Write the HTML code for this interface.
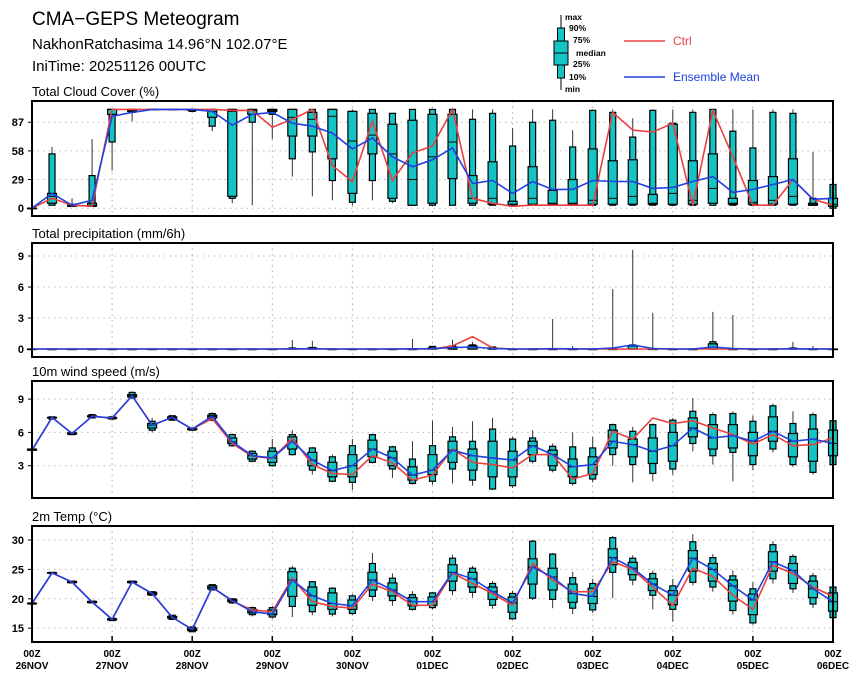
<!DOCTYPE html>
<html><head><meta charset="utf-8"><title>CMA-GEPS Meteogram</title>
<style>
html,body{margin:0;padding:0;background:#fff;}
svg{display:block;font-family:"Liberation Sans",sans-serif;}
</style></head>
<body>
<svg id="chart" width="860" height="680" viewBox="0 0 860 680">
<g>
<text x="32" y="25" font-size="19">CMA−GEPS Meteogram</text>
<text x="32" y="49" font-size="15">NakhonRatchasima  14.96°N  102.07°E</text>
<text x="32" y="71" font-size="15">IniTime: 20251126 00UTC</text>
</g>
<g font-size="8.5" font-weight="bold">
<line x1="561" y1="15" x2="561" y2="90" stroke="#000" stroke-width="1"/>
<rect x="557.5" y="28" width="7" height="50" fill="#14c4c4" stroke="#000"/>
<rect x="554" y="41" width="14" height="24" fill="#14c4c4" stroke="#000"/>
<line x1="554" y1="53" x2="568" y2="53" stroke="#000"/>
<text x="565" y="20">max</text>
<text x="569" y="31">90%</text>
<text x="573" y="43">75%</text>
<text x="576" y="56">median</text>
<text x="573" y="67">25%</text>
<text x="569" y="80">10%</text>
<text x="565" y="92">min</text>
<line x1="624" y1="41" x2="665" y2="41" stroke="#e84040" stroke-width="1.5"/>
<text x="673" y="45" font-size="12" font-weight="normal" fill="#e84040">Ctrl</text>
<line x1="624" y1="77" x2="665" y2="77" stroke="#2040e0" stroke-width="1.5"/>
<text x="673" y="81" font-size="12" font-weight="normal" fill="#2040e0">Ensemble Mean</text>
</g>
</svg>
<script>
// ---- Total cloud cover (%) ----
const cloudMean=[0,15,3,8,93,97,100,100,100,98,84,95,97,86,83,76,60,71,52,42,49,61,25,28,15,27,19,19,28,27,27,20,21,27,32,16,19,24,29,9,10];
const cloudCtrl=[0,10,3,2,100,100,100,100,100,100,99,99,82,90,100,43,27,88,28,56,63,100,10,5,2,3,3,3,3,97,79,77,86,3,99,52,3,3,29,9,3];
const cloudMax=[0,62,10,70,100,100,100,100,100,100,100,100,100,100,100,100,100,100,96,100,100,100,100,100,81,100,100,79,100,100,91,100,100,100,100,100,100,100,100,57,24];
const cloudP90=[0,55,4,33,100,100,100,100,100,100,100,100,100,100,100,100,98,100,96,100,100,100,90,96,63,87,89,62,99,97,72,99,86,97,100,78,61,97,96,10,24];
const cloudP75=[0,15,3,5,100,100,100,100,100,100,100,100,100,100,97,100,98,96,85,89,95,95,33,47,7,42,18,29,60,48,49,14,85,48,55,10,28,32,50,5,10];
const cloudMed=[0,12,3,3,100,99,100,100,100,98,98,99,99,92,90,93,68,74,55,29,52,67,10,10,4,10,5,5,8,10,12,5,15,8,20,5,6,8,12,4,4];
const cloudP25=[0,5,2,2,95,98,100,100,99,92,12,95,98,73,73,50,15,55,10,3,5,30,5,4,3,4,4,4,4,4,4,4,4,4,5,4,4,4,4,3,2];
const cloudP10=[0,3,2,2,67,97,100,100,98,83,10,87,95,50,57,28,6,28,7,3,3,3,3,3,2,3,3,3,3,3,3,3,3,3,3,3,3,3,3,3,0];
const cloudMin=[0,3,2,2,38,88,99,100,98,78,5,3,70,32,12,8,3,8,5,3,3,3,3,3,2,3,3,3,3,3,3,3,3,3,3,3,3,3,3,3,0];
const cloudTicks=[0,29,58,87];
// ---- Total precipitation (mm/6h) ----
const precMean=[0,0,0,0,0,0,0,0,0,0,0,0,0,0.02,0.02,0,0,0,0,0.02,0.03,0.15,0.2,0.05,0,0,0.03,0.02,0,0.1,0.4,0.05,0,0,0.2,0.05,0,0,0.02,0.01,0];
const precCtrl=[0,0,0,0,0,0,0,0,0,0,0,0,0,0,0,0,0,0,0,0,0,0.3,1.2,0.1,0,0,0,0,0,0,0,0,0,0,0,0,0,0,0,0,0];
const precMax=[0,0,0,0,0,0,0,0,0,0,0,0,0,0.87,0.8,0,0,0,0,0.98,0.3,0.9,0.7,0.2,0,0,2.9,0.3,0,5.8,9.6,3.5,0,0,3.6,3.3,0,0,0.7,0.3,0];
const precP90=[0,0,0,0,0,0,0,0,0,0,0,0,0,0.1,0.15,0,0,0,0,0,0.25,0.3,0.4,0.2,0,0,0,0,0,0.05,0.4,0.05,0,0,0.7,0,0,0,0.1,0,0];
const precP75=[0,0,0,0,0,0,0,0,0,0,0,0,0,0.05,0.1,0,0,0,0,0,0.1,0.2,0.3,0.1,0,0,0,0,0,0,0.3,0,0,0,0.5,0,0,0,0.05,0,0];
const precTicks=[0,3,6,9];
// ---- 10m wind speed (m/s) ----
const windMean=[4.4,7.35,5.9,7.45,7.3,9.3,6.65,7.35,6.3,7.45,5.15,3.9,3.7,5.2,3.5,2.55,3.0,4.5,3.7,2.15,2.6,4.4,3.9,3.7,3.5,4.8,4.0,2.9,3.1,5.2,4.9,4.3,4.8,6.4,5.5,5.7,5.2,6.1,5.2,5.4,5.0];
const windCtrl=[4.4,7.35,5.9,7.45,7.3,9.3,6.65,7.35,6.3,7.25,5.0,3.85,3.65,5.45,3.1,2.3,2.2,3.9,3.25,1.7,2.15,4.5,3.3,3.1,2.8,4.0,4.0,1.8,2.3,6.1,5.4,7.3,6.8,7.05,6.4,5.8,4.95,5.8,4.8,4.9,5.5];
const windMax=[4.5,7.4,6.0,7.6,7.4,9.7,7.3,7.5,6.4,7.8,5.9,4.4,5.4,6.2,4.7,4.0,5.4,5.9,4.8,5.2,7.05,6.5,7.0,7.3,5.6,6.2,5.0,6.0,5.6,6.8,6.5,6.8,7.3,9.1,7.8,7.9,7.5,8.6,7.9,7.8,7.3];
const windP90=[4.5,7.4,6.0,7.6,7.4,9.6,7.0,7.5,6.4,7.7,5.8,4.3,4.6,5.8,4.6,3.8,4.8,5.8,4.7,3.6,4.8,5.6,5.2,6.3,5.4,5.5,4.75,4.7,4.6,6.7,6.1,6.7,7.1,7.9,7.6,7.7,7.0,8.4,6.8,7.6,7.05];
const windP75=[4.5,7.35,5.95,7.5,7.35,9.4,6.8,7.4,6.35,7.55,5.5,4.1,4.3,5.6,4.2,3.3,4.0,5.3,4.3,2.9,4.0,5.2,4.5,5.2,4.3,5.2,4.4,3.6,3.8,6.2,5.4,5.5,6.0,7.3,6.7,6.7,6.0,7.4,5.9,6.3,6.2];
const windP25=[4.4,7.3,5.85,7.4,7.25,9.2,6.4,7.2,6.25,7.3,5.0,3.6,3.3,4.5,3.0,2.0,2.0,3.8,3.0,1.7,2.2,3.3,2.6,2.0,2.0,4.0,3.0,2.0,2.2,4.6,3.8,3.2,3.4,5.6,4.5,4.6,3.9,5.2,3.8,3.4,3.9];
const windP10=[4.4,7.2,5.8,7.3,7.2,9.1,6.2,7.1,6.2,7.1,4.8,3.4,3.0,4.0,2.6,1.6,1.5,3.3,2.7,1.4,1.6,2.7,1.7,0.9,1.2,3.4,2.6,1.4,1.8,4.0,3.1,2.3,2.7,5.0,3.9,4.2,3.1,4.5,3.1,2.4,3.1];
const windMin=[4.4,7.2,5.8,7.3,7.2,9.1,6.0,7.1,6.2,7.0,4.7,3.3,2.9,3.9,2.2,1.5,0.8,3.2,1.9,1.3,1.3,1.4,1.2,0.8,1.0,3.2,2.4,1.2,1.5,3.0,1.5,1.6,2.2,4.3,3.1,1.6,2.6,4.2,2.9,2.2,2.6];
const windTicks=[3,6,9];
// ---- 2m temperature (°C) ----
const tempMean=[19.2,24.4,22.85,19.45,16.5,22.85,20.9,16.85,14.8,21.95,19.7,17.8,17.4,23.2,20.5,19.2,18.8,23.2,21.5,19.5,19.5,24.5,23.4,21.2,19.3,25.4,23.7,20.9,20.4,27.0,25.2,22.5,20.6,26.9,25.0,22.2,19.8,26.3,24.8,21.7,19.5];
const tempCtrl=[19.2,24.4,22.85,19.45,16.5,22.85,20.9,16.85,14.8,21.95,19.6,18.1,17.8,23.5,19.5,18.7,18.4,22.5,21.2,18.9,18.9,24.4,22.6,20.9,18.9,26.0,23.2,21.2,21.2,26.3,25.0,21.95,18.9,25.2,23.8,20.6,18.2,25.7,24.3,22.0,20.4];
const tempMax=[19.3,24.5,23.0,19.6,16.7,23.0,21.2,17.2,15.2,22.4,20.1,18.7,18.8,25.6,23.0,22.0,20.8,27.8,24.3,21.3,21.2,27.5,25.6,23.0,21.4,30.0,27.8,24.6,23.4,30.7,27.4,24.8,23.4,31.0,27.6,24.8,22.8,29.8,27.6,24.4,22.2];
const tempP90=[19.3,24.5,23.0,19.6,16.7,23.0,21.2,17.2,15.2,22.4,20.0,18.5,18.5,25.2,22.9,21.8,20.5,26.0,23.5,20.7,21.0,26.9,25.2,22.6,20.9,29.8,27.6,23.6,22.6,30.4,26.9,24.3,22.2,29.7,27.0,23.9,21.7,29.2,27.2,23.9,22.0];
const tempP75=[19.25,24.45,22.95,19.55,16.6,22.95,21.1,17.0,15.0,22.2,19.9,18.2,18.1,24.6,22.0,21.0,19.8,24.5,22.7,20.2,20.3,25.8,24.5,22.0,20.3,26.8,25.2,22.5,21.8,28.5,26.2,23.4,21.4,28.2,26.0,23.2,20.8,28.0,26.0,23.0,21.0];
const tempP25=[19.15,24.35,22.75,19.35,16.4,22.75,20.7,16.7,14.6,21.7,19.5,17.6,17.3,20.4,18.9,18.2,18.2,21.5,20.5,18.8,18.9,23.0,22.0,19.9,17.7,22.5,21.5,19.4,19.2,25.8,24.1,21.4,19.0,24.7,23.0,19.6,17.3,24.7,22.6,20.2,17.9];
const tempP10=[19.1,24.3,22.7,19.3,16.3,22.7,20.6,16.5,14.4,21.5,19.3,17.3,16.9,18.7,17.8,17.4,17.5,20.4,19.7,18.2,18.5,21.4,21.1,18.9,16.6,20.1,19.9,18.4,18.1,24.5,23.2,20.6,18.2,22.8,22.0,18.0,15.9,23.4,21.7,19.1,16.8];
const tempMin=[19.1,24.3,22.7,19.3,16.3,22.7,20.6,16.5,14.4,21.5,19.1,17.0,16.6,16.9,17.2,17.0,17.2,19.6,18.8,18.0,18.2,20.6,20.2,18.3,16.5,19.8,18.4,17.4,17.6,20.1,22.3,18.2,16.1,22.3,21.2,17.3,15.6,22.6,21.0,18.4,16.6];
const tempTicks=[15,20,25,30];
// ---- x axis ----
const dayLabels=["26NOV","27NOV","28NOV","29NOV","30NOV","01DEC","02DEC","03DEC","04DEC","05DEC","06DEC"];

const NS="http://www.w3.org/2000/svg";
const svg=document.getElementById('chart');
const X0=32,X1=833,STEPS=40;
function xScale(t){return X0+(X1-X0)*t/STEPS;}
function mk(tag,attrs,parent){const e=document.createElementNS(NS,tag);for(const k in attrs)e.setAttribute(k,attrs[k]);(parent||svg).appendChild(e);return e;}

function drawPanel(cfg){
  const g=mk('g',{});
  
  
  const y=v=>cfg.bottom-(v-cfg.vmin)*(cfg.bottom-cfg.top)/(cfg.vmax-cfg.vmin);
  const title=mk('text',{x:32,y:cfg.top-5,'font-size':13},g);
  title.textContent=cfg.title;
  
  
  for(let d=1;d<dayLabels.length-1;d++){
    const gl=mk('line',{x1:xScale(d*4),x2:xScale(d*4),y1:cfg.top,y2:cfg.bottom,stroke:'#aaa','stroke-dasharray':'1.5,4'},g);
    
    
  }
  cfg.ticks.forEach(tv=>{
    const gl=mk('line',{x1:X0,x2:X1,y1:y(tv),y2:y(tv),stroke:'#bbb','stroke-dasharray':'1.5,4'},g);
    
    
    const tk=mk('line',{x1:X0-4,x2:X0,y1:y(tv),y2:y(tv),stroke:'#000'},g);
    
    
    const lb=mk('text',{x:X0-8,y:y(tv)+4,'font-size':11,'font-weight':'bold','text-anchor':'end'},g);
    lb.textContent=String(tv);
    
    
  });
  const gb=mk('g',{},g);
  
  
  for(let t=0;t<=STEPS;t++){
    const cx=xScale(t);
    const w=mk('line',{x1:cx,x2:cx,y1:y(cfg.max[t]),y2:y(cfg.min[t]),stroke:'#333','stroke-width':1},gb);
    
    
    const r1=mk('rect',{x:cx-3,y:y(cfg.p90[t]),width:6,height:Math.max(0.5,y(cfg.p10[t])-y(cfg.p90[t])),fill:'#14c4c4',stroke:'#000','stroke-width':1.2},gb);
    
    
    const r2=mk('rect',{x:cx-4.5,y:y(cfg.p75[t]),width:9,height:Math.max(0.5,y(cfg.p25[t])-y(cfg.p75[t])),fill:'#14c4c4',stroke:'#000','stroke-width':1.2},gb);
    
    
    const md=mk('line',{x1:cx-4.5,x2:cx+4.5,y1:y(cfg.med[t]),y2:y(cfg.med[t]),stroke:'#000','stroke-width':1},gb);
    
    
  }
  const ptsC=cfg.ctrl.map((v,t)=>xScale(t).toFixed(1)+','+y(v).toFixed(1)).join(' ');
  const pc=mk('polyline',{points:ptsC,fill:'none',stroke:'#e84040','stroke-width':1.6},g);
  
  
  const ptsM=cfg.mean.map((v,t)=>xScale(t).toFixed(1)+','+y(v).toFixed(1)).join(' ');
  const pm=mk('polyline',{points:ptsM,fill:'none',stroke:'#2040e0','stroke-width':1.6},g);
  
  
  const fr=mk('rect',{x:X0,y:cfg.top,width:X1-X0,height:cfg.bottom-cfg.top,fill:'none',stroke:'#000','stroke-width':2},g);
  
  
}

const zeros=precMax.map(()=>0);
drawPanel({name:'cloud-cover',title:'Total Cloud Cover (%)',top:101,bottom:216,vmin:-7.9,vmax:108.5,ticks:cloudTicks,
  mean:cloudMean,ctrl:cloudCtrl,max:cloudMax,p90:cloudP90,p75:cloudP75,med:cloudMed,p25:cloudP25,p10:cloudP10,min:cloudMin});
drawPanel({name:'precipitation',title:'Total precipitation (mm/6h)',top:243,bottom:357,vmin:-0.77,vmax:10.26,ticks:precTicks,
  mean:precMean,ctrl:precCtrl,max:precMax,p90:precP90,p75:precP75,med:zeros,p25:zeros,p10:zeros,min:zeros});
drawPanel({name:'wind-speed',title:'10m wind speed (m/s)',top:381,bottom:498,vmin:0.09,vmax:10.63,ticks:windTicks,
  mean:windMean,ctrl:windCtrl,max:windMax,p90:windP90,p75:windP75,med:windMean,p25:windP25,p10:windP10,min:windMin});
drawPanel({name:'temperature',title:'2m Temp (°C)',top:526,bottom:642,vmin:12.65,vmax:32.38,ticks:tempTicks,
  mean:tempMean,ctrl:tempCtrl,max:tempMax,p90:tempP90,p75:tempP75,med:tempMean,p25:tempP25,p10:tempP10,min:tempMin});

dayLabels.forEach((d,i)=>{
  const x=xScale(i*4);
  const tk=mk('line',{x1:x,x2:x,y1:636,y2:642,stroke:'#000','stroke-width':1.5});
  
  
  const a=mk('text',{x:x,y:657,'font-size':10,'font-weight':'bold','text-anchor':'middle'});
  a.textContent='00Z';
  
  
  const b=mk('text',{x:x,y:669,'font-size':10,'font-weight':'bold','text-anchor':'middle'});
  b.textContent=d;
  
  
});
</script>
</body></html>
